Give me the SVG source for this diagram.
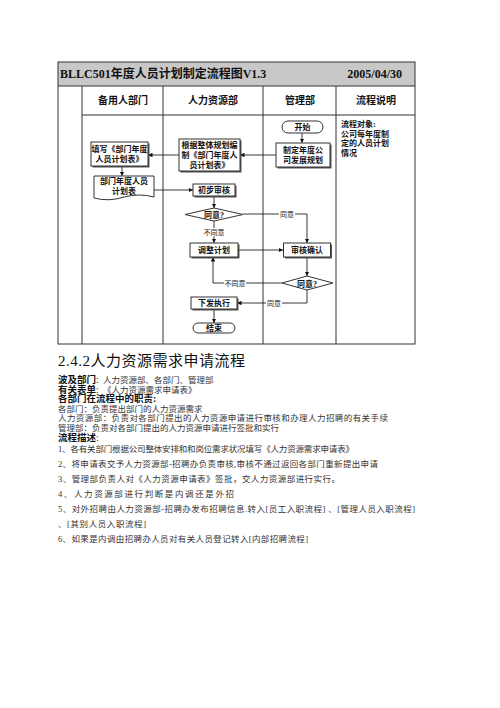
<svg xmlns="http://www.w3.org/2000/svg" width="500" height="708" viewBox="0 0 500 708">
<defs>
<style>
.t{font-family:"Liberation Serif","Noto Sans CJK SC",serif;fill:#111}
.b{font-weight:bold}
.box{fill:#fff;stroke:#333;stroke-width:1}
.sh{fill:#555}
.ln{fill:none;stroke:#222;stroke-width:0.9}
.grid{fill:none;stroke:#333;stroke-width:1}
.lab{font-family:"Liberation Serif","Noto Sans CJK SC",serif;font-size:7px;fill:#111;text-anchor:middle}
.nt{font-family:"Liberation Serif","Noto Sans CJK SC",serif;font-size:8px;fill:#111;text-anchor:middle}
.body{font-family:"Liberation Serif","Noto Sans CJK SC",serif;font-size:8.5px;fill:#333}
.hd{font-family:"Liberation Serif","Noto Sans CJK SC",serif;font-size:9.5px;font-weight:bold;fill:#111}
</style>
<marker id="ar" viewBox="0 0 10 10" refX="10" refY="5" markerWidth="5" markerHeight="5" orient="auto"><path d="M0,0 L10,5 L0,10 Z" fill="#111"/></marker>
</defs>
<rect width="500" height="708" fill="#fff"/>

<g id="table">
<rect x="58" y="62" width="357" height="24" fill="#c8c8c8"/>
<rect x="58" y="62" width="357" height="282" class="grid"/>
<line x1="58" y1="86" x2="415" y2="86" class="grid"/>
<line x1="82" y1="115" x2="415" y2="115" class="grid"/>
<line x1="82" y1="86" x2="82" y2="344" class="grid"/>
<line x1="163" y1="86" x2="163" y2="344" class="grid"/>
<line x1="263" y1="86" x2="263" y2="344" class="grid"/>
<line x1="336" y1="86" x2="336" y2="344" class="grid"/>
<text x="60" y="78" class="t b" font-size="12">BLLC501年度人员计划制定流程图V1.3</text>
<text x="402" y="78" class="t b" font-size="12" text-anchor="end">2005/04/30</text>
<text x="123" y="104" class="t b" font-size="10" text-anchor="middle">备用人部门</text>
<text x="213" y="104" class="t b" font-size="10" text-anchor="middle">人力资源部</text>
<text x="300" y="104" class="t b" font-size="10" text-anchor="middle">管理部</text>
<text x="376" y="104" class="t b" font-size="10" text-anchor="middle">流程说明</text>
<text class="t b" font-size="8"><tspan x="341" y="127">流程对象:</tspan><tspan x="341" y="137">公司每年度制</tspan><tspan x="341" y="146">定的人员计划</tspan><tspan x="341" y="156">情况</tspan></text>
</g>

<g id="connectors">
<line x1="302" y1="133" x2="302" y2="143" class="ln" marker-end="url(#ar)"/>
<line x1="276" y1="155" x2="240" y2="155" class="ln" marker-end="url(#ar)"/>
<line x1="179" y1="155" x2="148" y2="155" class="ln" marker-end="url(#ar)"/>
<line x1="122" y1="166" x2="122" y2="176" class="ln" marker-end="url(#ar)"/>
<line x1="154" y1="190" x2="193" y2="190" class="ln" marker-end="url(#ar)"/>
<line x1="214" y1="196" x2="214" y2="208" class="ln" marker-end="url(#ar)"/>
<polyline points="243,214 307,214 307,243" class="ln" marker-end="url(#ar)"/>
<line x1="214" y1="221" x2="214" y2="243" class="ln" marker-end="url(#ar)"/>
<line x1="238" y1="250" x2="283" y2="250" class="ln" marker-end="url(#ar)"/>
<line x1="307" y1="257" x2="307" y2="276" class="ln" marker-end="url(#ar)"/>
<polyline points="282,283 213,283 213,257" class="ln" marker-end="url(#ar)"/>
<polyline points="307,290 307,303 237,303" class="ln" marker-end="url(#ar)"/>
<line x1="214" y1="309" x2="214" y2="323" class="ln" marker-end="url(#ar)"/>
<rect x="279" y="210" width="16" height="8" fill="#fff"/>
<text x="287" y="217" class="lab">同意</text>
<rect x="203" y="228" width="22" height="8" fill="#fff"/>
<text x="214" y="235" class="lab">不同意</text>
<rect x="224" y="279" width="22" height="8" fill="#fff"/>
<text x="235" y="286" class="lab">不同意</text>
<rect x="266" y="299" width="16" height="8" fill="#fff"/>
<text x="274" y="306" class="lab">同意</text>
</g>

<g id="start">
<rect x="282" y="121" width="41" height="12" rx="6" class="box"/>
<text x="302.5" y="130" class="nt b">开始</text>
</g>
<g id="plan">
<rect x="277.5" y="144.5" width="54" height="24" class="sh"/>
<rect x="276" y="143" width="54" height="24" class="box"/>
<text class="nt b"><tspan x="303" y="153">制定年度公</tspan><tspan x="303" y="163">司发展规划</tspan></text>
</g>
<g id="compile">
<rect x="180.5" y="140.5" width="61" height="32" class="sh"/>
<rect x="179" y="139" width="61" height="32" class="box"/>
<text class="nt b"><tspan x="209.5" y="148">根据整体规划编</tspan><tspan x="209.5" y="158">制《部门年度人</tspan><tspan x="209.5" y="168">员计划表》</tspan></text>
</g>
<g id="fill">
<rect x="92.5" y="143.5" width="57" height="24" class="sh"/>
<rect x="91" y="142" width="57" height="24" class="box"/>
<text class="nt b"><tspan x="119.5" y="152">填写《部门年度</tspan><tspan x="119.5" y="162">人员计划表》</tspan></text>
</g>
<g id="doc">
<path d="M94,176 H154 V197 Q139,193 124,197 Q109,202 94,198 Z" class="box"/>
<text class="nt b"><tspan x="124" y="184">部门年度人员</tspan><tspan x="124" y="194">计划表</tspan></text>
</g>
<g id="review">
<rect x="194.5" y="185.5" width="42" height="12" class="sh"/>
<rect x="193" y="184" width="42" height="12" class="box"/>
<text x="214" y="193" class="nt b">初步审核</text>
</g>
<g id="agree1">
<polygon points="185,214.5 214,208 243,214.5 214,221" class="box"/>
<text x="214" y="217.5" class="nt b">同意?</text>
</g>
<g id="adjust">
<rect x="191.5" y="244.5" width="48" height="14" class="sh"/>
<rect x="190" y="243" width="48" height="14" class="box"/>
<text x="214" y="253" class="nt b">调整计划</text>
</g>
<g id="confirm">
<rect x="285" y="244.5" width="47" height="14" class="sh"/>
<rect x="283.5" y="243" width="47" height="14" class="box"/>
<text x="307" y="253" class="nt b">审核确认</text>
</g>
<g id="agree2">
<polygon points="282,283 307,276 333,283 307,290" class="box"/>
<text x="307" y="286.5" class="nt b">同意?</text>
</g>
<g id="issue">
<rect x="192.5" y="298.5" width="46" height="12" class="sh"/>
<rect x="191" y="297" width="46" height="12" class="box"/>
<text x="214" y="306" class="nt b">下发执行</text>
</g>
<g id="end">
<rect x="193" y="323" width="42" height="10" rx="5" class="box"/>
<text x="214" y="331" class="nt b">结束</text>
</g>

<g id="text">
<text x="58" y="366" class="t" font-size="15" textLength="187">2.4.2人力资源需求申请流程</text>
<text x="58" y="383" class="hd">波及部门<tspan font-weight="normal">:</tspan></text>
<text x="103" y="383" class="body">人力资源部、各部门、管理部</text>
<text x="58" y="392.5" class="hd">有关表单<tspan font-weight="normal">:</tspan></text>
<text x="103" y="392.5" class="body">《人力资源需求申请表》</text>
<text x="58" y="402" class="hd">各部门在流程中的职责:</text>
<text x="58" y="411.5" class="body">各部门：负责提出部门的人力资源需求</text>
<text x="58" y="421" class="body" textLength="330">人力资源部：负责对各部门提出的人力资源申请进行审核和办理人力招聘的有关手续</text>
<text x="58" y="430.5" class="body">管理部：负责对各部门提出的人力资源申请进行签批和实行</text>
<text x="58" y="440.5" class="hd">流程描述<tspan font-weight="normal">:</tspan></text>
<text x="58" y="452" class="body" textLength="296">1、各有关部门根据公司整体安排和和岗位需求状况填写《人力资源需求申请表》</text>
<text x="58" y="467" class="body" textLength="320">2、将申请表交予人力资源部-招聘办负责审核,审核不通过返回各部门重新提出申请</text>
<text x="58" y="482" class="body" textLength="282">3、管理部负责人对《人力资源申请表》签批，交人力资源部进行实行。</text>
<text x="58" y="497" class="body" textLength="176">4、人力资源部进行判断是内调还是外招</text>
<text x="58" y="512" class="body" textLength="357">5、对外招聘由人力资源部-招聘办发布招聘信息.转入[员工入职流程] 、[管理人员入职流程]</text>
<text x="58" y="527" class="body" textLength="88">、[其别人员入职流程]</text>
<text x="58" y="542" class="body" textLength="250">6、如果是内调由招聘办人员对有关人员登记转入[内部招聘流程]</text>
</g>
</svg>
